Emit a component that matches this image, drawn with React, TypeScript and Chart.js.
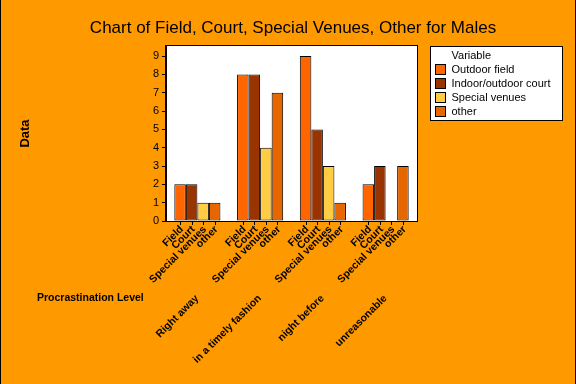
import React, { useEffect, useRef } from "react";
import { Chart, registerables } from "chart.js";

Chart.register(...registerables);

const groups = ["Right away", "in a timely fashion", "night before", "unreasonable"];
const variables = ["Outdoor field", "Indoor/outdoor court", "Special venues", "other"];
const varTickLabels = ["Field", "Court", "Special venues", "other"];
const outdoorField = [2, 8, 9, 2];
const indoorCourt = [2, 8, 5, 3];
const specialVenues = [1, 4, 3, 0];
const otherVenue = [1, 7, 1, 3];
const seriesColors = ["#FF6600", "#993300", "#FFCC44", "#E66600"];
const titleText = "Chart of Field, Court, Special Venues, Other for Males";
const yTitle = "Data";
const xTitle = "Procrastination Level";
const legendTitle = "Variable";

const FONT = "'Liberation Sans', Arial, sans-serif";

export default function App() {
  const ref = useRef<HTMLCanvasElement | null>(null);

  useEffect(() => {
    const canvas = ref.current;
    if (!canvas) return;
    const series = [outdoorField, indoorCourt, specialVenues, otherVenue];

    const decor = {
      id: "decor",
      beforeDraw(chart: any) {
        const { ctx, chartArea: a } = chart;
        ctx.save();
        ctx.fillStyle = "#FF9900";
        ctx.fillRect(0, 0, chart.width, chart.height);
        ctx.fillStyle = "#FFFFFF";
        ctx.fillRect(a.left, a.top, a.right - a.left, a.bottom - a.top);
        ctx.restore();
      },
      afterDraw(chart: any) {
        const { ctx, chartArea: a } = chart;
        ctx.save();
        // plot frame
        ctx.strokeStyle = "#000";
        ctx.lineWidth = 1;
        ctx.strokeRect(Math.round(a.left) - 0.5, Math.round(a.top) - 0.5, Math.round(a.right - a.left) + 1, Math.round(a.bottom - a.top) + 1);
        // image edges
        ctx.fillStyle = "#000";
        ctx.fillRect(0, 0, 1, chart.height);
        ctx.fillRect(chart.width - 1, 0, 1, chart.height);

        // inner tick marks and labels
        ctx.fillStyle = "#000";
        ctx.font = `bold 10.5px ${FONT}`;
        ctx.textAlign = "right";
        ctx.textBaseline = "top";
        const groupCenters: number[] = [];
        for (let g = 0; g < groups.length; g++) {
          let minX = Infinity, maxX = -Infinity;
          for (let d = 0; d < series.length; d++) {
            const bar = chart.getDatasetMeta(d).data[g];
            const x = bar.x;
            minX = Math.min(minX, x - bar.width / 2);
            maxX = Math.max(maxX, x + bar.width / 2);
            ctx.beginPath();
            ctx.moveTo(Math.round(x) + 0.5, a.bottom);
            ctx.lineTo(Math.round(x) + 0.5, a.bottom + 4);
            ctx.stroke();
            ctx.save();
            ctx.translate(x - 2, a.bottom + 3);
            ctx.rotate(-Math.PI / 4);
            ctx.fillText(varTickLabels[d], 0, 0);
            ctx.restore();
          }
          groupCenters.push((minX + maxX) / 2);
        }
        // group labels
        for (let g = 0; g < groups.length; g++) {
          ctx.save();
          ctx.translate(groupCenters[g] - 4, 293);
          ctx.rotate(-Math.PI / 4);
          ctx.fillText(groups[g], 0, 0);
          ctx.restore();
        }

        // x title
        ctx.textAlign = "left";
        ctx.textBaseline = "middle";
        ctx.font = `bold 10.5px ${FONT}`;
        ctx.fillText(xTitle, 37, 298);

        // y title
        ctx.save();
        ctx.translate(25, (a.top + a.bottom) / 2);
        ctx.rotate(-Math.PI / 2);
        ctx.textAlign = "center";
        ctx.textBaseline = "middle";
        ctx.font = `bold 13px ${FONT}`;
        ctx.fillText(yTitle, 0, 0);
        ctx.restore();

        // main title
        ctx.textAlign = "center";
        ctx.textBaseline = "alphabetic";
        ctx.font = `17px ${FONT}`;
        ctx.fillText(titleText, 293, 33);

        // legend
        const lx = 430.5, ly = 46.5, lw = 132, lh = 74;
        ctx.fillStyle = "#FFF";
        ctx.fillRect(lx, ly, lw, lh);
        ctx.strokeStyle = "#000";
        ctx.strokeRect(lx, ly, lw, lh);
        ctx.fillStyle = "#000";
        ctx.font = `11px ${FONT}`;
        ctx.textAlign = "left";
        ctx.textBaseline = "middle";
        ctx.fillText(legendTitle, 451.5, 56);
        for (let i = 0; i < variables.length; i++) {
          const cy = 69.5 + i * 14;
          ctx.fillStyle = seriesColors[i];
          ctx.fillRect(435.5, cy - 5, 10, 10);
          ctx.strokeStyle = "#000";
          ctx.strokeRect(435.5, cy - 5, 10, 10);
          ctx.fillStyle = "#000";
          ctx.fillText(variables[i], 451.5, cy);
        }
        ctx.restore();
      },
    };

    const chart = new Chart(canvas, {
      type: "bar",
      data: {
        labels: groups,
        datasets: series.map((vals, i) => ({
          label: variables[i],
          data: vals,
          backgroundColor: seriesColors[i],
          borderColor: "#000",
          borderWidth: 1,
          borderSkipped: false,
          categoryPercentage: 0.735,
          barPercentage: 1,
        })),
      },
      options: {
        animation: false,
        responsive: false,
        devicePixelRatio: 1,
        layout: { padding: { left: 0, top: 46, right: 159, bottom: 163 } },
        plugins: { legend: { display: false }, title: { display: false }, tooltip: { enabled: false } },
        scales: {
          x: { display: false },
          y: {
            min: 0,
            max: 9.55,
            ticks: {
              stepSize: 1,
              includeBounds: false,
              color: "#000",
              padding: 3,
              font: { family: FONT, size: 11 },
            },
            grid: { drawOnChartArea: false, tickLength: 4, color: "#000" },
            border: { color: "#000" },
            afterFit: (s: any) => {
              s.width = 166;
            },
          },
        },
      } as any,
      plugins: [decor],
    });
    return () => chart.destroy();
  }, []);

  return (
    <div style={{ position: "absolute", left: 0, top: 0, width: 576, height: 384 }}>
      <canvas ref={ref} width={576} height={384} style={{ display: "block", width: 576, height: 384 }} />
    </div>
  );
}
